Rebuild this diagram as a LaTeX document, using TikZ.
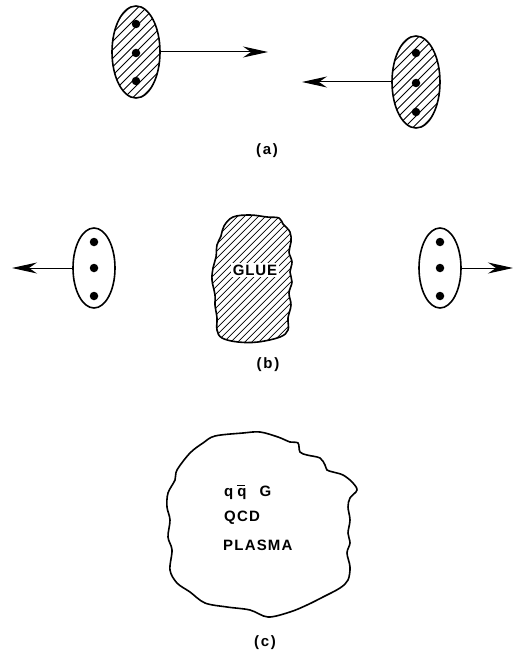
\documentclass[tikz,border=0pt]{standalone}
\usepackage{fontspec}
\setmainfont{Liberation Sans}
\usetikzlibrary{shapes.geometric,arrows.meta}

\tikzset{
  outline/.style={line width=1.6pt, line join=round},
  hatched/.style={path picture={
    \foreach \k in {-26,...,26}
      \draw[line width=0.8pt]
        ([xshift=\k*#1-110pt, yshift=-110pt]path picture bounding box.center)
        -- ++(220pt,220pt);}},
  hatched/.default=7pt,
  hadron/.style={ellipse, draw, outline, inner sep=0pt,
    minimum width=48pt, minimum height=92pt},
  meson/.style={ellipse, draw, outline, fill=white, inner sep=0pt,
    minimum width=42pt, minimum height=80pt},
  quark/.style={circle, fill=black, inner sep=0pt, minimum size=8.5pt},
  beam/.style={line width=1pt,
    -{Stealth[length=25pt, width=11pt, inset=8pt]}},
  caption/.style={font=\fontsize{15}{17}\selectfont\bfseries\addfontfeatures{LetterSpace=12}},
  plasmatext/.style={anchor=west, inner sep=0pt,
    font=\fontsize{15}{17}\selectfont\bfseries\addfontfeatures{LetterSpace=8}}
}

\begin{document}
\begin{tikzpicture}[x=1pt, y=-1pt]
\useasboundingbox (0,0) rectangle (513,655);

% ---- (a): two nuclei approaching each other ----
\node[hadron, hatched=8.5pt] (nA) at (136,52) {};
\node[quark] (qA1) at (136,24) {};
\node[quark] (qA2) at (136,53) {};
\node[quark] (qA3) at (136,81) {};
\coordinate (tipA) at (268,52);
\draw[beam] (nA.east) -- (tipA);

\node[hadron, hatched=8.5pt] (nB) at (416,82) {};
\node[quark] (qB1) at (416,53) {};
\node[quark] (qB2) at (416,83) {};
\node[quark] (qB3) at (416,112) {};
\coordinate (tipB) at (302,82);
\draw[beam] (nB.west) -- (tipB);

\node[caption] (capA) at (267,151) {(a)};

% ---- (b): receding nucleons, glue left behind ----
\node[meson] (mL) at (94,268) {};
\node[quark] (qL1) at (94,242) {};
\node[quark] (qL2) at (94,268) {};
\node[quark] (qL3) at (94,296) {};
\coordinate (tipL) at (12,268);
\draw[beam] (mL.west) -- (tipL);

\node[meson] (mR) at (440,268) {};
\node[quark] (qR1) at (440,242) {};
\node[quark] (qR2) at (440,268) {};
\node[quark] (qR3) at (440,296) {};
\coordinate (tipR) at (513,268);
\draw[beam] (mR.east) -- (tipR);

\draw[outline, hatched=7pt] plot[smooth cycle, tension=0.6] coordinates {
  (233,217) (250,215) (267,217) (279,218) (283,224) (290,232) (291,242)
  (289,252) (292,262) (290,272) (292,282) (289,293) (291,305) (288,318)
  (288,330) (280,337) (258,342) (238,342) (222,338) (217,330) (217,318)
  (215,305) (215,295) (212,280) (213,268) (216,257) (217,245) (221,236)
  (224,226)};
\node[fill=white, inner sep=1.5pt,
  font=\fontsize{15}{17}\selectfont\bfseries\addfontfeatures{LetterSpace=6}]
  (glue) at (255,270) {GLUE};

\node[caption] (capB) at (268,365) {(b)};

% ---- (c): quark-gluon plasma ----
\draw[outline] plot[smooth cycle, tension=0.55] coordinates {
  (203,443) (215,436) (243,433) (260,432) (278,437) (290,442) (298,443)
  (300,452) (307,455) (320,458) (325,465) (327,470) (333,472) (343,475)
  (352,482) (357,490) (350,498) (348,507) (350,520) (348,533) (350,543)
  (347,553) (350,567) (348,580) (340,588) (323,597) (307,605) (290,612)
  (268,617) (250,610) (227,607) (205,603) (190,592) (177,583) (170,570)
  (172,550) (168,537) (170,520) (167,507) (168,493) (175,480) (177,470)
  (190,453)};

\node[plasmatext] (qqg) at (224,492)
  {q\hspace{4pt}\makebox[0pt][l]{\raisebox{10pt}{\rule{8pt}{1.2pt}}}q\hspace{13pt}G};
\node[plasmatext] (qcd) at (224,518) {QCD};
\node[plasmatext] (plasma) at (223,545) {PLASMA};

\node[caption] (capC) at (265,643) {(c)};
\end{tikzpicture}
\end{document}
